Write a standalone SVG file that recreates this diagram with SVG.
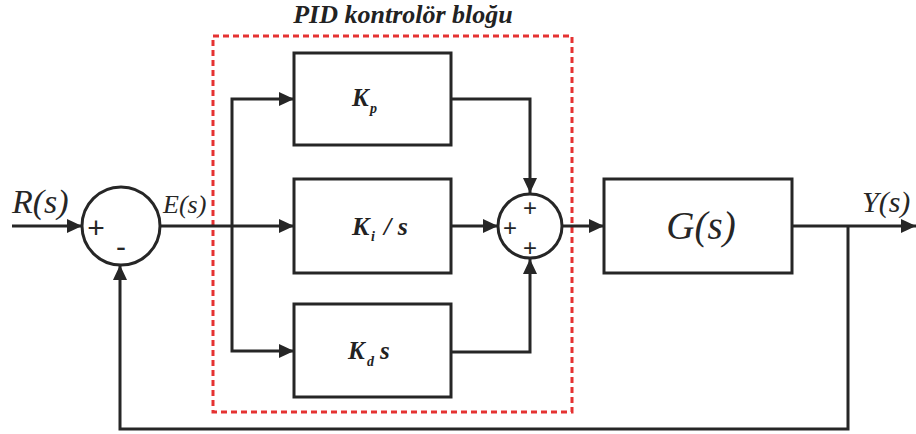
<svg xmlns="http://www.w3.org/2000/svg" width="916" height="434" viewBox="0 0 916 434">
<style>
.ln{fill:none;stroke:#262626;stroke-width:3;}
.box{fill:#fff;stroke:#262626;stroke-width:3;}
.dash{fill:none;stroke:#e53232;stroke-width:3;stroke-dasharray:6 4;}
.sig{font-family:'Liberation Serif','Times New Roman',Times,'DejaVu Serif',serif;font-style:italic;fill:#262626;}
.k{font-family:'Liberation Serif','Times New Roman',Times,'DejaVu Serif',serif;font-style:italic;font-weight:bold;fill:#222;}
.pm{font-family:'Liberation Sans',Arial,sans-serif;fill:#262626;text-anchor:middle;}
</style>
<defs>
<marker id="arr" viewBox="0 0 15 14" refX="15" refY="7" markerWidth="15" markerHeight="14" markerUnits="userSpaceOnUse" orient="auto">
<path d="M0,0 L15,7 L0,14 Z" fill="#262626"/>
</marker>
</defs>
<rect width="916" height="434" fill="#fff"/>
<g id="pid-block">
<rect class="dash" x="213" y="36" width="359" height="376"/>
<text class="k" x="403" y="23" font-size="26" text-anchor="middle">PID kontrolör bloğu</text>
</g>
<g id="connectors">
<path class="ln" d="M12,226 H82" marker-end="url(#arr)"/>
<path class="ln" d="M160,226 H294" marker-end="url(#arr)"/>
<path class="ln" d="M232,226 V99 H294" marker-end="url(#arr)"/>
<path class="ln" d="M232,226 V351 H294" marker-end="url(#arr)"/>
<path class="ln" d="M451,99 H530 V193" marker-end="url(#arr)"/>
<path class="ln" d="M451,226 H498" marker-end="url(#arr)"/>
<path class="ln" d="M451,352 H530 V259" marker-end="url(#arr)"/>
<path class="ln" d="M562,226 H604" marker-end="url(#arr)"/>
<path class="ln" d="M792,226 H916" marker-end="url(#arr)"/>
<path class="ln" d="M848,226 V429 H120 V265" marker-end="url(#arr)"/>
</g>
<g id="sum1">
<circle class="box" cx="121" cy="226" r="39"/>
<text class="pm" x="96" y="238" font-size="30">+</text>
<text class="pm" x="121" y="257" font-size="30">-</text>
</g>
<g id="kp">
<rect class="box" x="294" y="53" width="157" height="92"/>
<text class="k" x="352" y="106" font-size="25">K</text>
<text class="k" x="370" y="113" font-size="14">p</text>
</g>
<g id="ki">
<rect class="box" x="294" y="179" width="157" height="94"/>
<text class="k" x="352" y="235" font-size="26">K</text>
<text class="k" x="371" y="241" font-size="14">i</text>
<text class="k" x="384" y="235" font-size="26">/ s</text>
</g>
<g id="kd">
<rect class="box" x="294" y="304" width="157" height="93"/>
<text class="k" x="348" y="359" font-size="25">K</text>
<text class="k" x="367" y="366" font-size="14">d</text>
<text class="k" x="380" y="359" font-size="25">s</text>
</g>
<g id="sum2">
<circle class="box" cx="530" cy="226" r="32"/>
<text class="pm" x="530" y="216" font-size="24">+</text>
<text class="pm" x="510" y="236" font-size="24">+</text>
<text class="pm" x="530" y="256" font-size="24">+</text>
</g>
<g id="plant">
<rect class="box" x="604" y="179" width="188" height="94"/>
<text class="sig" x="701" y="239" font-size="39" text-anchor="middle">G(s)</text>
</g>
<g id="labels">
<text class="sig" x="12" y="213" font-size="34">R(s)</text>
<text class="sig" x="163" y="213" font-size="26">E(s)</text>
<text class="sig" x="862" y="212" font-size="30">Y(s)</text>
</g>
</svg>
